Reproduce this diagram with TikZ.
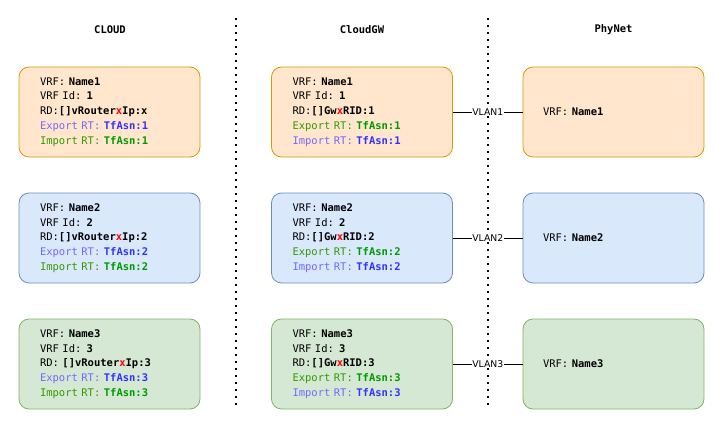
\documentclass[tikz,border=0pt]{standalone}
\usepackage{fontspec}
\setmonofont{DejaVu Sans Mono}
\newfontfamily\lblfont{DejaVu Sans}
\definecolor{orfill}{HTML}{FFE6CC}
\definecolor{ordraw}{HTML}{D79B00}
\definecolor{blfill}{HTML}{DAE8FC}
\definecolor{bldraw}{HTML}{6C8EBF}
\definecolor{grfill}{HTML}{D5E8D4}
\definecolor{grdraw}{HTML}{82B366}
\definecolor{purtxt}{HTML}{7766FF}
\definecolor{purbold}{HTML}{3333FF}
\definecolor{grtxt}{HTML}{339900}
\definecolor{grbold}{HTML}{009900}
\newcommand\mkX{\textcolor{red}{\textbf{x}}}
\newcommand\expP[1]{\textcolor{purtxt}{Export RT: }\textcolor{purbold}{\textbf{TfAsn:#1}}}
\newcommand\impP[1]{\textcolor{purtxt}{Import RT: }\textcolor{purbold}{\textbf{TfAsn:#1}}}
\newcommand\expG[1]{\textcolor{grtxt}{Export RT: }\textcolor{grbold}{\textbf{TfAsn:#1}}}
\newcommand\impG[1]{\textcolor{grtxt}{Import RT: }\textcolor{grbold}{\textbf{TfAsn:#1}}}
\tikzset{
  vrfbox/.style={draw, line width=0.8pt, rounded corners=10pt, minimum width=181pt, minimum height=90pt,
    text width=139pt, inner xsep=21pt, align=left,
    font=\ttfamily\fontsize{10.5}{14.8}\selectfont},
  phybox/.style={vrfbox, text width=141pt, inner xsep=20pt},
  orbox/.style={fill=orfill, draw=ordraw},
  blbox/.style={fill=blfill, draw=bldraw},
  grbox/.style={fill=grfill, draw=grdraw},
  header/.style={font=\ttfamily\bfseries\fontsize{10.5}{12}\selectfont},
  divider/.style={line width=1.6pt, dash pattern=on 1.6pt off 5.4pt},
  vlanlink/.style={line width=0.8pt},
  vlan/.style={fill=white, inner sep=0.5pt, font=\lblfont\fontsize{9.3}{10}\selectfont}
}
\begin{document}
\begin{tikzpicture}[x=1pt, y=-1pt]
\useasboundingbox (0,0) rectangle (724,431);
% dividers
\coordinate (d1t) at (236,18);
\coordinate (d1b) at (236,408);
\coordinate (d2t) at (488,18);
\coordinate (d2b) at (488,408);
\draw[divider] (d1t) -- (d1b);
\draw[divider] (d2t) -- (d2b);
% headers
\node[header] (hcloud) at (110,30) {CLOUD};
\node[header] (hgw) at (362,30) {CloudGW};
\node[header] (hphy) at (613.5,30) {PhyNet};
% CLOUD boxes
\node[vrfbox, orbox] (c1) at (109.5,112) {VRF: \textbf{Name1}\\VRF Id: \textbf{1}\\RD:\textbf{[]vRouter}\mkX\textbf{Ip:x}\\\expP{1}\\\impG{1}};
\node[vrfbox, blbox] (c2) at (109.5,238) {VRF: \textbf{Name2}\\VRF Id: \textbf{2}\\RD:\textbf{[]vRouter}\mkX\textbf{Ip:2}\\\expP{2}\\\impG{2}};
\node[vrfbox, grbox] (c3) at (109.5,364) {VRF: \textbf{Name3}\\VRF Id: \textbf{3}\\RD: \textbf{[]vRouter}\mkX\textbf{Ip:3}\\\expP{3}\\\impG{3}};
% CloudGW boxes
\node[vrfbox, orbox] (g1) at (362,112) {VRF: \textbf{Name1}\\VRF Id: \textbf{1}\\RD:\textbf{[]Gw}\mkX\textbf{RID:1}\\\expG{1}\\\impP{1}};
\node[vrfbox, blbox] (g2) at (362,238) {VRF: \textbf{Name2}\\VRF Id: \textbf{2}\\RD:\textbf{[]Gw}\mkX\textbf{RID:2}\\\expG{2}\\\impP{2}};
\node[vrfbox, grbox] (g3) at (362,364) {VRF: \textbf{Name3}\\VRF Id: \textbf{3}\\RD:\textbf{[]Gw}\mkX\textbf{RID:3}\\\expG{3}\\\impP{3}};
% PhyNet boxes
\node[phybox, orbox] (p1) at (613.5,112) {VRF: \textbf{Name1}};
\node[phybox, blbox] (p2) at (613.5,238) {VRF: \textbf{Name2}};
\node[phybox, grbox] (p3) at (613.5,364) {VRF: \textbf{Name3}};
% VLAN links
\draw[vlanlink] (g1.east) -- node[vlan] (v1) {VLAN1} (p1.west);
\draw[vlanlink] (g2.east) -- node[vlan] (v2) {VLAN2} (p2.west);
\draw[vlanlink] (g3.east) -- node[vlan] (v3) {VLAN3} (p3.west);
\end{tikzpicture}
\end{document}
